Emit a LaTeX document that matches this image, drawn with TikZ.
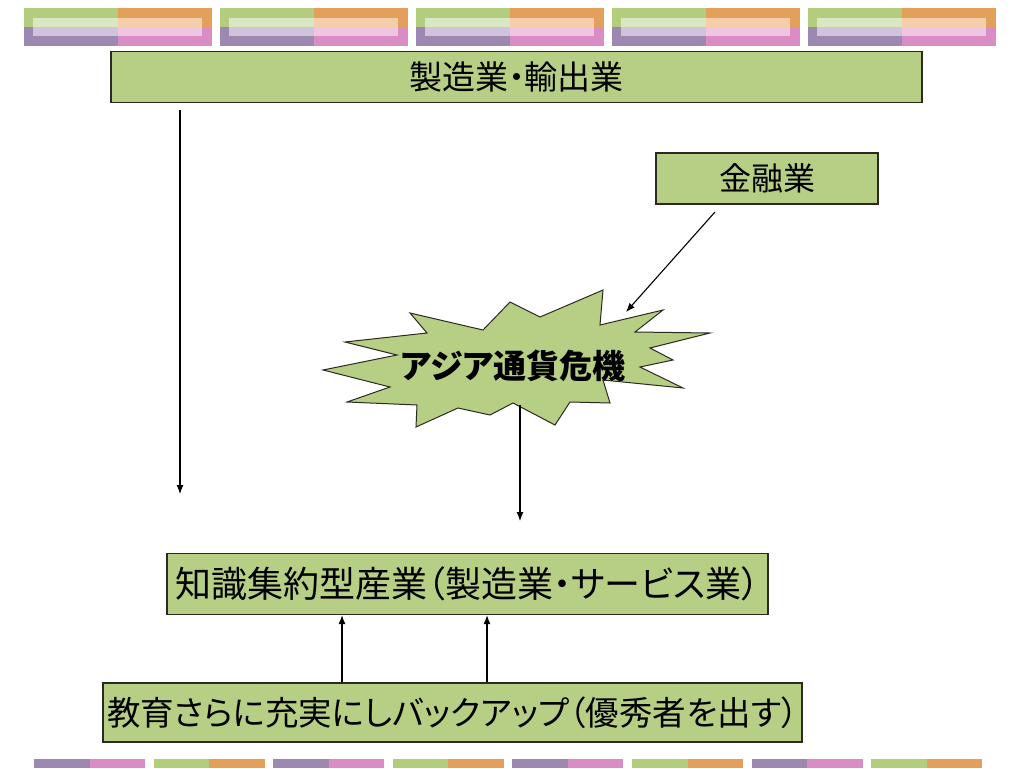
\documentclass[tikz,border=0pt]{standalone}
\usepackage{fontspec}
\setmainfont{Noto Sans CJK JP}[RawFeature=+palt]
\usetikzlibrary{arrows.meta}
\definecolor{bgreen}{HTML}{B3CD7E}
\definecolor{borange}{HTML}{E3A05A}
\definecolor{bpurple}{HTML}{9C88B1}
\definecolor{bpink}{HTML}{DA8CC5}
\definecolor{lgreen}{HTML}{D9E8C2}
\definecolor{lorange}{HTML}{F4CDA9}
\definecolor{lpurple}{HTML}{D0C4DC}
\definecolor{lpink}{HTML}{EEC6E1}
\definecolor{boxfill}{HTML}{B7CE85}
\definecolor{boxline}{HTML}{2A2A22}
\tikzset{
  box/.style={draw=boxline, line width=1.2pt, fill=boxfill, rectangle, inner sep=0pt, font=\fontsize{32}{36}\selectfont},
  conn/.style={draw=black, line width=1.1pt, -{Latex[length=9pt,width=7pt]}}
}
\begin{document}
\begin{tikzpicture}[x=1pt,y=-1pt]
\useasboundingbox (0,0) rectangle (1024,768);
\fill[white] (0,0) rectangle (1024,768);
% top banner
\foreach \i in {0,...,4}{
  \pgfmathsetmacro{\xa}{24+196*\i}
  \fill[bgreen] (\xa,8) rectangle ++(94,19);
  \fill[borange] (\xa+94,8) rectangle ++(94,19);
  \fill[bpurple] (\xa,27) rectangle ++(94,19);
  \fill[bpink] (\xa+94,27) rectangle ++(94,19);
  \fill[lgreen] (\xa+9,18) rectangle (\xa+94,27);
  \fill[lorange] (\xa+94,18) rectangle (\xa+178,27);
  \fill[lpurple] (\xa+9,27) rectangle (\xa+94,36);
  \fill[lpink] (\xa+94,27) rectangle (\xa+178,36);
}
% bottom banner
\foreach \i in {0,...,7}{
  \pgfmathsetmacro{\xb}{34+119.6*\i}
  \pgfmathtruncatemacro{\odd}{mod(\i,2)}
  \ifnum\odd=0
    \fill[bpurple] (\xb,759) rectangle ++(55.5,9);
    \fill[bpink] (\xb+55.5,759) rectangle ++(55.5,9);
  \else
    \fill[bgreen] (\xb,759) rectangle ++(55.5,9);
    \fill[borange] (\xb+55.5,759) rectangle ++(55.5,9);
  \fi
}
% boxes
\node[box, minimum width=811pt, minimum height=51pt, font=\fontsize{33}{36}\selectfont] (top) at (516.5,77) {製造業・輸出業};
\node[box, minimum width=222pt, minimum height=51pt] (kin) at (767,178.5) {金融業};
\node[box, minimum width=601pt, minimum height=61pt, font=\fontsize{36}{38}\selectfont] (know) at (467.5,584) {知識集約型産業（製造業・サービス業）};
\node[box, minimum width=699pt, minimum height=59pt, font=\fontsize{33.5}{36}\selectfont] (edu) at (452.5,712.5) {教育さらに充実にしバックアップ（優秀者を出す）};
% starburst
\draw[draw=boxline, line width=1pt, fill=boxfill]
  (410,313) -- (483,330) -- (510,302) -- (540,317) -- (603,290) -- (600,325)
  -- (663,310) -- (635,332) -- (710,333) -- (650,348) -- (673,360) -- (640,367)
  -- (683,388) -- (603,380) -- (610,403) -- (570,402) -- (555,425) -- (513,403)
  -- (490,415) -- (458,408) -- (416,427) -- (417,405) -- (347,402) -- (390,387)
  -- (323,370) -- (397,355) -- (345,342) -- (427,333) -- cycle;
\node[font=\fontsize{33}{36}\selectfont\bfseries, inner sep=0pt] (crisis) at (513,366) {アジア通貨危機};
% connector end points
\coordinate (lefttop) at (180,110);
\coordinate (leftend) at (180,494);
\coordinate (kinstart) at (715,212);
\coordinate (crisisin) at (626,312);
\coordinate (crisisout) at (520,405);
\coordinate (midend) at (520,521);
% connectors
\draw[conn] (lefttop) -- (leftend);
\draw[conn] (kinstart) -- (crisisin);
\draw[conn] (crisisout) -- (midend);
\draw[conn] (edu.north -| 342,0) -- (know.south -| 342,0);
\draw[conn] (edu.north -| 487,0) -- (know.south -| 487,0);
\end{tikzpicture}
\end{document}
